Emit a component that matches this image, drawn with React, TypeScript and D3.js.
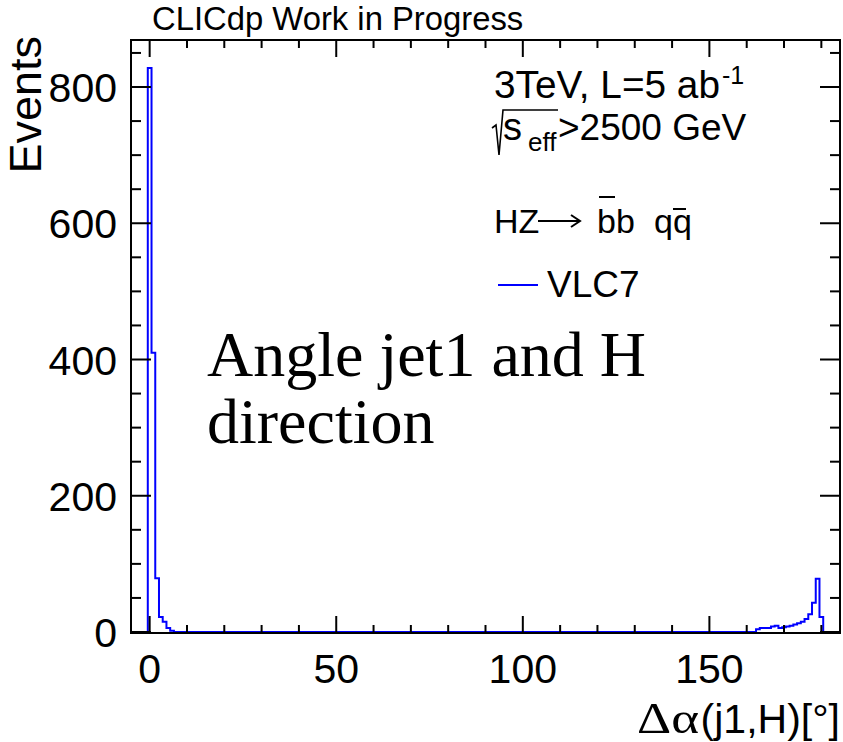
import React from "react";
import * as d3 from "d3";

// Angle between leading jet and Higgs direction, 1-degree bins centred on integers
const peakFirstBin = 0;
const peakCounts = [828, 410, 79, 22, 15, 6, 2];
const tailFirstBin = 163;
const tailCounts = [4, 6, 6, 6, 8, 9, 6, 7, 8, 9, 11, 13, 15, 19, 26, 43, 78, 22];

const xDomain: [number, number] = [-5, 185];
const yDomain: [number, number] = [0, 869];
const xMajorTicks = [0, 50, 100, 150];
const yMajorTicks = [0, 200, 400, 600, 800];
const xTitle = "(j1,H)[°]";
const yTitle = "Events";
const headerText = "CLICdp Work in Progress";
const seriesName = "VLC7";

const W = 843;
const H = 742;
const frame = { left: 131, right: 840, top: 40, bottom: 633 };
const sans = "'Liberation Sans', Arial, Helvetica, sans-serif";
const serif = "'Liberation Serif', 'Times New Roman', serif";
const blue = "#0000ff";

function countAt(center: number): number {
  const pi = center - peakFirstBin;
  if (pi >= 0 && pi < peakCounts.length) return peakCounts[pi];
  const ti = center - tailFirstBin;
  if (ti >= 0 && ti < tailCounts.length) return tailCounts[ti];
  return 0;
}

export default function App() {
  const x = d3.scaleLinear().domain(xDomain).range([frame.left, frame.right]);
  const y = d3.scaleLinear().domain(yDomain).range([frame.bottom - 1, frame.top]);

  // outline vertices of the step histogram
  const pts: [number, number][] = [[xDomain[0], 0]];
  for (let c = -4; c <= 184; c++) {
    const v = countAt(c);
    pts.push([c - 0.5, v], [c + 0.5, v]);
  }
  pts.push([xDomain[1], 0]);
  const histPath = d3
    .line<[number, number]>()
    .x((d) => x(d[0]))
    .y((d) => y(d[1]))(pts) as string;

  const xMinor = d3.range(0, 181, 10).filter((v) => !xMajorTicks.includes(v));
  const yMinor = d3.range(0, 869, 50).filter((v) => !yMajorTicks.includes(v));

  return (
    <svg
      width={W}
      height={H}
      viewBox={`0 0 ${W} ${H}`}
      style={{ position: "absolute", left: 0, top: 0, background: "#fff" }}
    >
      <rect x={0} y={0} width={W} height={H} fill="#fff" />
      <text x={152} y={30} fontFamily={sans} fontSize={32.8} fill="#000">
        {headerText}
      </text>

      <path d={histPath} fill="none" stroke={blue} strokeWidth={2} strokeLinejoin="miter" />

      <rect
        x={frame.left}
        y={frame.top}
        width={frame.right - frame.left}
        height={frame.bottom - frame.top}
        fill="none"
        stroke="#000"
        strokeWidth={2}
      />

      {/* x ticks, bottom and top */}
      <g stroke="#000" strokeWidth={2}>
        {xMajorTicks.map((v) => (
          <g key={"xM" + v}>
            <line x1={x(v)} x2={x(v)} y1={frame.bottom} y2={frame.bottom - 17} />
            <line x1={x(v)} x2={x(v)} y1={frame.top} y2={frame.top + 17} />
          </g>
        ))}
        {xMinor.map((v) => (
          <g key={"xm" + v}>
            <line x1={x(v)} x2={x(v)} y1={frame.bottom} y2={frame.bottom - 8} />
            <line x1={x(v)} x2={x(v)} y1={frame.top} y2={frame.top + 8} />
          </g>
        ))}
        {yMajorTicks.map((v) => (
          <g key={"yM" + v}>
            <line x1={frame.left} x2={frame.left + 20} y1={y(v)} y2={y(v)} />
            <line x1={frame.right} x2={frame.right - 20} y1={y(v)} y2={y(v)} />
          </g>
        ))}
        {yMinor.map((v) => (
          <g key={"ym" + v}>
            <line x1={frame.left} x2={frame.left + 10} y1={y(v)} y2={y(v)} />
            <line x1={frame.right} x2={frame.right - 10} y1={y(v)} y2={y(v)} />
          </g>
        ))}
      </g>

      {/* tick labels */}
      <g fontFamily={sans} fontSize={41} fill="#000">
        {xMajorTicks.map((v) => (
          <text key={"xl" + v} x={x(v)} y={683} textAnchor="middle">
            {String(v)}
          </text>
        ))}
        {yMajorTicks.map((v) => (
          <text key={"yl" + v} x={117} y={y(v) + 15} textAnchor="end">
            {String(v)}
          </text>
        ))}
      </g>

      {/* axis titles */}
      <text x={637} y={733} fontFamily={serif} fontSize={44} fill="#000" textLength={62} lengthAdjust="spacingAndGlyphs">
        Δα
      </text>
      <text x={frame.right} y={733} textAnchor="end" fontFamily={sans} fontSize={41} fill="#000">
        {xTitle}
      </text>
      <text
        transform="translate(41,36) rotate(-90)"
        textAnchor="end"
        fontFamily={sans}
        fontSize={45}
        fill="#000"
      >
        {yTitle}
      </text>

      {/* legend block */}
      <g fontFamily={sans} fill="#000">
        <text x={494} y={98} fontSize={38} textLength={226} lengthAdjust="spacingAndGlyphs">3TeV, L=5 ab</text>
        <text x={722} y={84} fontSize={25}>-1</text>

        <path d="M492,128 L496,125 L499,155 L503,110 L558,110" fill="none" stroke="#000" strokeWidth={1.6} />
        <text x={503} y={140} fontSize={38}>s</text>
        <text x={528} y={151} fontSize={26}>eff</text>
        <text x={558} y={140} fontSize={37}>&gt;2500 GeV</text>

        <text x={494} y={233} fontSize={34}>HZ</text>
        <path d="M538,221 L579,221 M571,215 L580,221 L571,227" fill="none" stroke="#000" strokeWidth={2} />
        <text x={597} y={233} fontSize={34}>bb</text>
        <text x={654} y={233} fontSize={34}>qq</text>
        <line x1={599} x2={615} y1={197} y2={197} stroke="#000" strokeWidth={2} />
        <line x1={673} x2={686} y1={209} y2={209} stroke="#000" strokeWidth={2} />

        <line x1={498} x2={538} y1={285} y2={285} stroke={blue} strokeWidth={2} />
        <text x={547} y={297} fontSize={37}>{seriesName}</text>
      </g>

      {/* annotation */}
      <g fontFamily={serif} fontSize={64} fill="#000">
        <text x={207} y={376}>Angle jet1 and H</text>
        <text x={207} y={443}>direction</text>
      </g>
    </svg>
  );
}
